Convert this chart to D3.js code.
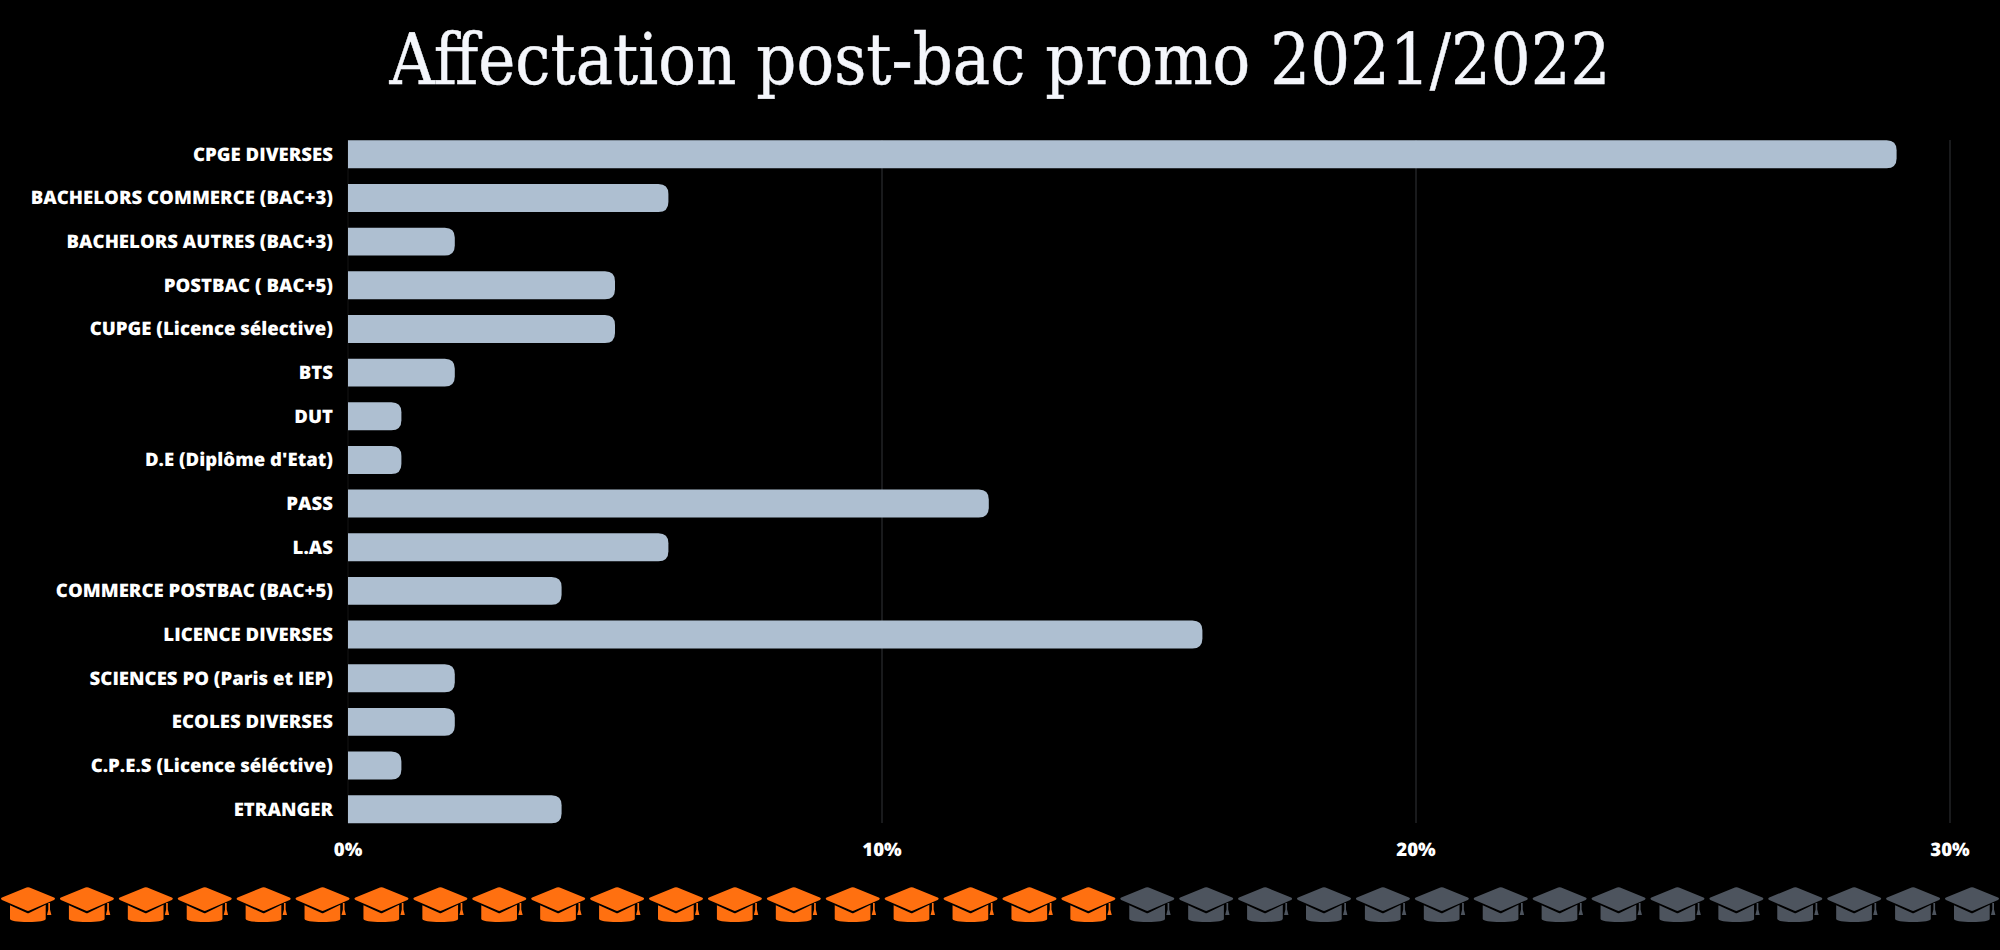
<!DOCTYPE html>
<html><head><meta charset="utf-8">
<script src="https://cdn.jsdelivr.net/npm/d3@7"></script>
<style>html,body{margin:0;background:#000;overflow:hidden}svg{display:block}text{text-rendering:geometricPrecision}</style>
</head><body><svg id="c" width="2000" height="950"></svg>
<script>
const titleText = "Affectation post-bac promo 2021/2022";
const categories = ["CPGE DIVERSES","BACHELORS COMMERCE (BAC+3)","BACHELORS AUTRES (BAC+3)","POSTBAC ( BAC+5)","CUPGE (Licence sélective)","BTS","DUT","D.E (Diplôme d'Etat)","PASS","L.AS","COMMERCE POSTBAC (BAC+5)","LICENCE DIVERSES","SCIENCES PO (Paris et IEP)","ECOLES DIVERSES","C.P.E.S (Licence séléctive)","ETRANGER"];
const values = [29,6,2,5,5,2,1,1,12,6,4,16,2,2,1,4];
const xTicks = [0,10,20,30];
const hatsFilled = 19;
const hatsTotal = 34;

const svg = d3.select("#c");
const x = d3.scaleLinear().domain([0,30]).range([348,1950]);
const y = d3.scaleBand().domain(categories).range([132.5,831]).paddingInner(0.36).paddingOuter(0.18);
const font = "'Open Sans',sans-serif";

svg.append("text").attr("x",1000).attr("y",84).attr("text-anchor","middle")
  .attr("fill","#f4f6fb").attr("stroke","#f4f6fb").attr("stroke-width",0.5)
  .attr("font-family","'DejaVu Serif',serif").attr("font-size",71)
  .attr("textLength",1221).attr("lengthAdjust","spacingAndGlyphs").text(titleText);

svg.append("g").selectAll("line").data(xTicks).join("line")
  .attr("x1",d=>x(d)).attr("x2",d=>x(d)).attr("y1",140).attr("y2",823)
  .attr("stroke",d=>d===0?"#111":"#2a2c30").attr("stroke-width",1.2);

const r = 10;
svg.append("g").selectAll("path").data(values).join("path")
  .attr("fill","#aebfd1")
  .attr("d",(d,i)=>{
    const x0=x(0), x1=x(d), t=y(categories[i]), h=y.bandwidth();
    return `M${x0},${t}H${x1-r}Q${x1},${t} ${x1},${t+r}V${t+h-r}Q${x1},${t+h} ${x1-r},${t+h}H${x0}Z`;
  });

svg.append("g").selectAll("text").data(categories).join("text")
  .attr("x",333).attr("y",d=>y(d)+y.bandwidth()/2).attr("dy","0.35em").attr("text-anchor","end")
  .attr("fill","#fff").attr("font-family",font).attr("font-weight",800).attr("font-size",18.6).text(d=>d);

svg.append("g").selectAll("text").data(xTicks).join("text")
  .attr("x",d=>x(d)).attr("y",849).attr("dy","0.35em").attr("text-anchor","middle")
  .attr("fill","#fff").attr("font-family",font).attr("font-weight",800).attr("font-size",18.6).text(d=>d+"%");

const hat = "M25.5,0.5Q27,0 28.5,0.5L53,10.5Q55,11.7 53,13L28.5,23.6Q27,24.2 25.5,23.6L1,13Q-1,11.7 1,10.5Z"+
  "M9,18.3L26,26Q27,26.4 28,26L44.7,17.8V32Q44,35 27,35Q10,35 9,32Z"+
  "M47.3,16H49V22.5L50.4,28H46L47.3,22.5Z";
const hatX = d3.scaleLinear().domain([0,hatsTotal-1]).range([1,1945]);
svg.append("g").selectAll("path").data(d3.range(hatsTotal)).join("path")
  .attr("transform",i=>`translate(${hatX(i)},887)`)
  .attr("fill",i=>i<hatsFilled?"#ff7010":"#4d545e").attr("d",hat);
</script></body></html>
